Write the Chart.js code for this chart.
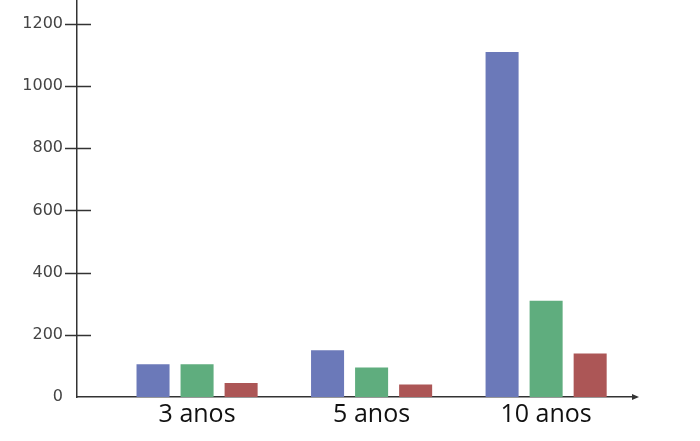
<!DOCTYPE html>
<html>
<head>
<meta charset="utf-8">
<script src="https://cdn.jsdelivr.net/npm/chart.js@4/dist/chart.umd.min.js"></script>
<style>
  html, body { margin: 0; padding: 0; background: #fff; }
  #wrap { width: 700px; height: 441px; }
</style>
</head>
<body>
<div id="wrap"><canvas id="chart"></canvas></div>
<script>
// data
const categories = ['3 anos', '5 anos', '10 anos']
const catPositions = [1, 2, 3]
const blueValues = [105, 150, 1110]
const greenValues = [105, 95, 310]
const redValues = [45, 40, 140]
const yTicks = [0, 200, 400, 600, 800, 1000, 1200]

const toPoints = (values) => values.map((v, i) => ({ x: catPositions[i], y: v }))

// tick marks crossing the y axis + arrow on x axis
const axisDeco = {
  id: 'axisDeco',
  afterDraw (chart) {
    const ctx = chart.ctx
    const y = chart.scales.y
    const x = chart.scales.x
    const ax = chart.chartArea.left
    ctx.save()
    ctx.strokeStyle = '#333'
    ctx.lineWidth = 1.5
    yTicks.forEach(v => {
      if (v === 0) return
      const py = Math.round(y.getPixelForValue(v)) + 0.5
      ctx.beginPath()
      ctx.moveTo(ax - 12, py)
      ctx.lineTo(ax + 14, py)
      ctx.stroke()
    })
    const by = y.getPixelForValue(0)
    const ex = x.right
    ctx.fillStyle = '#333'
    ctx.beginPath()
    ctx.moveTo(ex + 3, by)
    ctx.lineTo(ex - 4, by - 3)
    ctx.lineTo(ex - 4, by + 3)
    ctx.closePath()
    ctx.fill()
    ctx.restore()
  }
}

const chart = new Chart(document.getElementById('chart'), {
  type: 'bar',
  data: {
    datasets: [
      { data: toPoints(blueValues), backgroundColor: '#6b79b9' },
      { data: toPoints(greenValues), backgroundColor: '#5fad7e' },
      { data: toPoints(redValues), backgroundColor: '#ac5656' }
    ]
  },
  options: {
    responsive: true,
    maintainAspectRatio: false,
    animation: false,
    categoryPercentage: 0.757,
    barPercentage: 0.75,
    layout: { padding: { left: 0, right: 64, top: 0, bottom: 0 } },
    plugins: { legend: { display: false }, tooltip: { enabled: false } },
    scales: {
      x: {
        type: 'linear',
        offset: false,
        min: 0.312,
        max: 3.515,
        afterBuildTicks: (scale) => { scale.ticks = catPositions.map(v => ({ value: v })) },
        afterFit: (scale) => { scale.height = 44; scale.paddingLeft = 0; scale.paddingRight = 0 },
        grid: { display: false, drawTicks: false },
        border: { display: true, color: '#333', width: 1.5 },
        ticks: {
          padding: 3,
          color: '#111',
          font: { family: 'Open Sans', size: 25 },
          callback: (v) => categories[catPositions.indexOf(v)]
        }
      },
      y: {
        min: 0,
        max: 1277,
        afterBuildTicks: (scale) => { scale.ticks = yTicks.map(v => ({ value: v })) },
        afterFit: (scale) => { scale.width = 77; scale.paddingTop = 0; scale.paddingBottom = 0 },
        grid: { display: false, drawTicks: false },
        border: { display: true, color: '#333', width: 1.5 },
        ticks: {
          padding: 14,
          color: '#444',
          font: { family: 'DejaVu Sans', size: 16 },
          callback: (v) => String(v)
        }
      }
    }
  },
  plugins: [axisDeco]
})
</script>
</body>
</html>
